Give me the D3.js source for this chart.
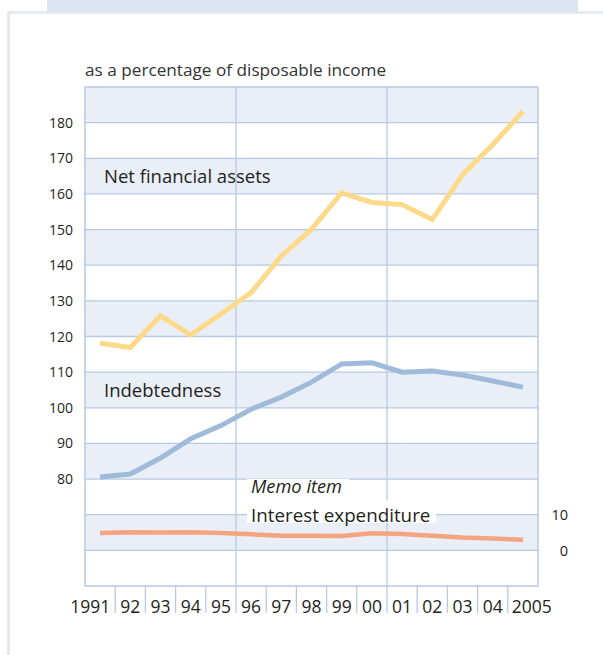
<!DOCTYPE html>
<html>
<head>
<meta charset="utf-8">
<script src="https://cdn.jsdelivr.net/npm/d3@7"></script>
<style>
  html, body { margin: 0; padding: 0; background: #fff; }
  svg { display: block; font-family: "Open Sans", "Noto Sans", sans-serif; }
</style>
</head>
<body>
<svg id="chart" width="603" height="655"></svg>
<script>
// ---- data ----
const years = ["1991","92","93","94","95","96","97","98","99","00","01","02","03","04","2005"];
const netFinancialAssets = [118.1, 116.9, 125.8, 120.4, 126.3, 132.3, 142.6, 150.1, 160.3, 157.6, 157.0, 152.8, 165.4, 173.8, 183.2];
const indebtedness = [80.6, 81.4, 85.9, 91.3, 95.0, 99.6, 103.0, 107.2, 112.3, 112.6, 110.0, 110.3, 109.2, 107.5, 105.8];
const interestExpenditure = [4.9, 5.1, 5.0, 5.1, 4.9, 4.5, 4.1, 4.1, 4.0, 4.8, 4.6, 4.1, 3.6, 3.3, 3.0];
const leftTicks = [80, 90, 100, 110, 120, 130, 140, 150, 160, 170, 180];
const rightTicks = [0, 10];
const gridValues = [60, 70, 80, 90, 100, 110, 120, 130, 140, 150, 160, 170, 180];
const bandStarts = [50, 60, 70, 80, 90, 100, 110, 120, 130, 140, 150, 160, 170, 180];
const verticalBreaks = ["96", "01"];
const title = "as a percentage of disposable income";

// ---- layout ----
const svg = d3.select("#chart");
const L = 85, R = 538, T = 87, B = 586;
const gridColor = "#b8c9e3";
const shade = "#e9eef7";
const textColor = "#231f20";

const x = d3.scaleBand().domain(years).range([L, R]).padding(0);
const y = d3.scaleLinear().domain([50, 190]).range([B, T]);
const yR = d3.scaleLinear().domain([-10, 130]).range([B, T]);
const cx = d => x(d) + x.bandwidth() / 2;

// frame decoration
svg.append("rect").attr("x", 47).attr("y", 0).attr("width", 531).attr("height", 12).attr("fill", "#dde5f0");
svg.append("path").attr("d", "M8.5,655 V12.5 H603").attr("fill", "none").attr("stroke", "#e1e8f2").attr("stroke-width", 2.5);

// title
svg.append("text").attr("x", 85).attr("y", 76).attr("font-size", 17.2).attr("fill", "#333").text(title);

// bands
svg.append("g").selectAll("rect").data(bandStarts).join("rect")
  .attr("x", L).attr("width", R - L)
  .attr("y", d => y(d + 10)).attr("height", d => y(d) - y(d + 10))
  .attr("fill", d => (d / 10) % 2 === 0 ? shade : "#fff");

// horizontal grid
svg.append("g").selectAll("line").data(gridValues).join("line")
  .attr("x1", L).attr("x2", R).attr("y1", d => y(d)).attr("y2", d => y(d))
  .attr("stroke", gridColor).attr("stroke-width", 1.3);

// vertical grid lines
svg.append("g").selectAll("line").data(verticalBreaks).join("line")
  .attr("x1", d => x(d)).attr("x2", d => x(d)).attr("y1", T).attr("y2", B)
  .attr("stroke", gridColor).attr("stroke-width", 1.3);

// border
svg.append("rect").attr("x", L).attr("y", T).attr("width", R - L).attr("height", B - T)
  .attr("fill", "none").attr("stroke", gridColor).attr("stroke-width", 1.5);

// x tick separators
svg.append("g").selectAll("line").data(years.slice(1)).join("line")
  .attr("x1", d => x(d)).attr("x2", d => x(d)).attr("y1", B).attr("y2", 613)
  .attr("stroke", gridColor).attr("stroke-width", 1.3);

// x labels
svg.append("g").selectAll("text").data(years).join("text")
  .attr("x", (d, i) => i === 0 ? x(d) + x.bandwidth() - 5 : (i === years.length - 1 ? x(d) + 4 : cx(d)))
  .attr("y", 613)
  .attr("text-anchor", (d, i) => i === 0 ? "end" : (i === years.length - 1 ? "start" : "middle"))
  .attr("font-size", 17.5).attr("fill", textColor)
  .text(d => d);

// left labels
svg.append("g").selectAll("text").data(leftTicks).join("text")
  .attr("x", 73).attr("y", d => y(d)).attr("dy", "0.36em")
  .attr("text-anchor", "end").attr("font-size", 14).attr("fill", textColor)
  .text(d => d);

// right labels
svg.append("g").selectAll("text").data(rightTicks).join("text")
  .attr("x", 568).attr("y", d => yR(d)).attr("dy", "0.36em")
  .attr("text-anchor", "end").attr("font-size", 14.5).attr("fill", textColor)
  .text(d => d);

// memo label boxes
svg.append("rect").attr("x", 247).attr("y", 479).attr("width", 102).attr("height", 21).attr("fill", "#fff");
svg.append("rect").attr("x", 247).attr("y", 500).attr("width", 189).attr("height", 23).attr("fill", "#fff");

// lines
const lineL = d3.line().x((d, i) => cx(years[i])).y(d => y(d));
const lineR = d3.line().x((d, i) => cx(years[i])).y(d => yR(d));

svg.append("path").datum(interestExpenditure).attr("d", lineR)
  .attr("fill", "none").attr("stroke", "#f5a47f").attr("stroke-width", 4.5).attr("stroke-linejoin", "round");
svg.append("path").datum(indebtedness).attr("d", lineL)
  .attr("fill", "none").attr("stroke", "#9fbbd9").attr("stroke-width", 5);
svg.append("path").datum(netFinancialAssets).attr("d", lineL)
  .attr("fill", "none").attr("stroke", "#fdd98a").attr("stroke-width", 5);

// series labels
svg.append("text").attr("x", 104).attr("y", 183).attr("font-size", 18.5).attr("fill", textColor).text("Net financial assets");
svg.append("text").attr("x", 104).attr("y", 396.5).attr("font-size", 18.5).attr("fill", textColor).text("Indebtedness");
svg.append("text").attr("x", 251).attr("y", 492.5).attr("font-size", 18.3).attr("font-style", "italic").attr("fill", textColor).text("Memo item");
svg.append("text").attr("x", 251).attr("y", 521.5).attr("font-size", 18.8).attr("fill", textColor).text("Interest expenditure");
</script>
</body>
</html>
